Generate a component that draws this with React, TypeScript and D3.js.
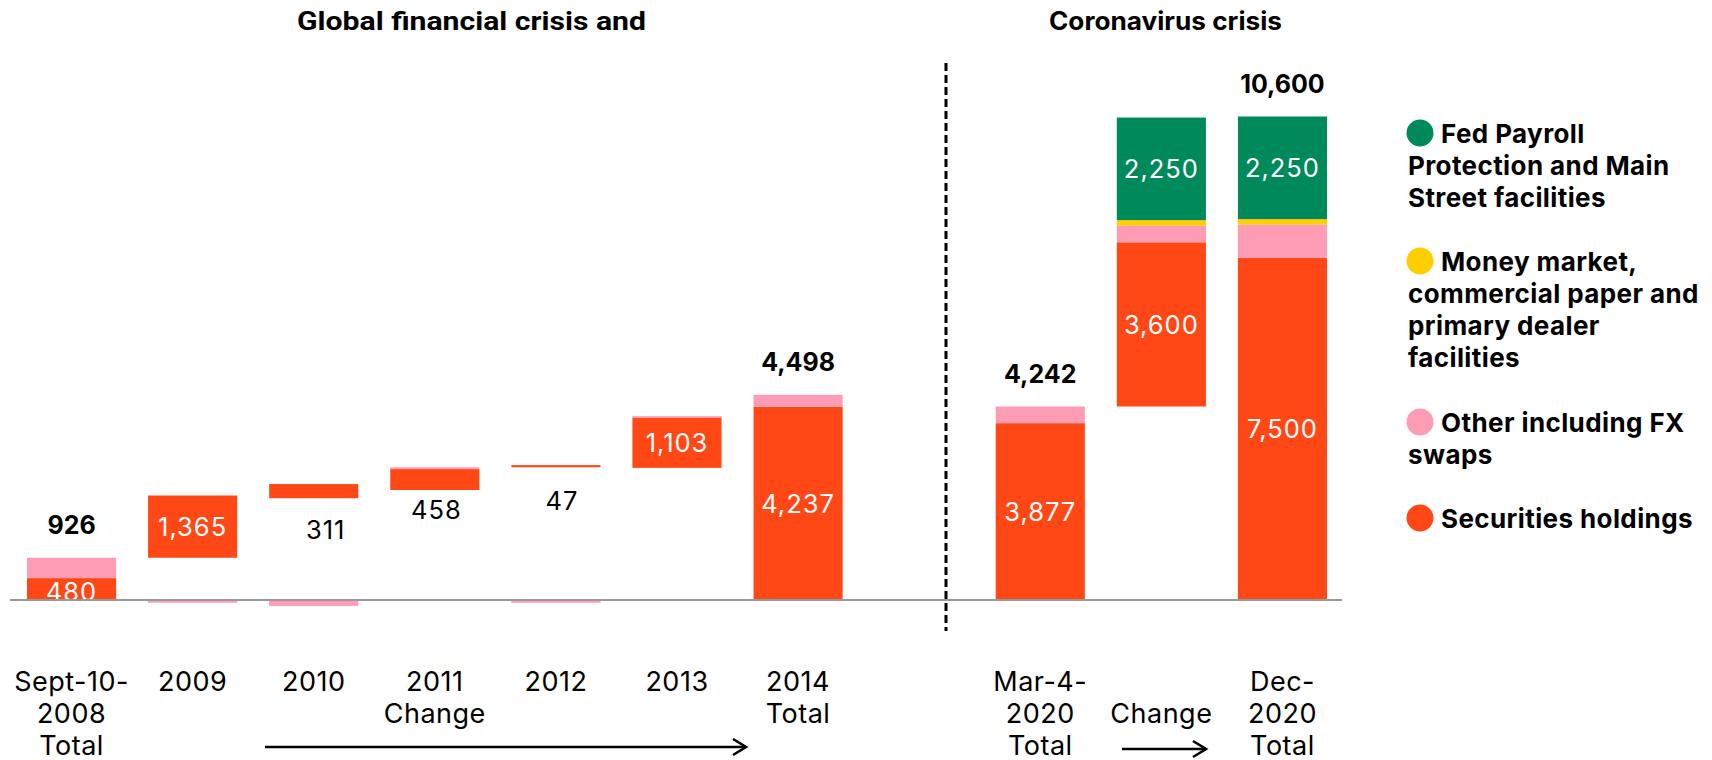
import React from "react";
import * as d3 from "d3";

// ---------- DATA ----------
const categories = ["sep2008", "y2009", "y2010", "y2011", "y2012", "y2013", "y2014", "gap", "mar2020", "chg2020", "dec2020"];
const tickLabels: string[][] = [
  ["Sept-10-", "2008", "Total"],
  ["2009"],
  ["2010"],
  ["2011", "Change"],
  ["2012"],
  ["2013"],
  ["2014", "Total"],
  [],
  ["Mar-4-", "2020", "Total"],
  ["", "Change"],
  ["Dec-", "2020", "Total"],
];
const barKinds = ["total", "change", "change", "change", "change", "change", "total", "gap", "total", "change", "total"];
const securities = [480, 1365, 311, 458, 47, 1103, 4237, 0, 3877, 3600, 7500];
const otherFx = [446, -60, -130, 40, -60, 30, 261, 0, 365, 365, 730];
const moneyMarket = [0, 0, 0, 0, 0, 0, 0, 0, 0, 120, 120];
const fedPayroll = [0, 0, 0, 0, 0, 0, 0, 0, 0, 2250, 2250];
const sectionTitles = ["Global financial crisis and", "Coronavirus crisis"];
const seriesNames = ["Fed Payroll Protection and Main Street facilities", "Money market, commercial paper and primary dealer facilities", "Other including FX swaps", "Securities holdings"];
const legendLines: string[][] = [
  ["Fed Payroll", "Protection and Main", "Street facilities"],
  ["Money market,", "commercial paper and", "primary dealer", "facilities"],
  ["Other including FX", "swaps"],
  ["Securities holdings"],
];

// ---------- STYLE / LAYOUT ----------
const COLORS = { fed: "#008A5C", mm: "#FFCE00", other: "#FD9CB4", sec: "#FF4815" };
const legendColors = [COLORS.fed, COLORS.mm, COLORS.other, COLORS.sec];
const W = 1712;
const H = 760;
const BASE_Y = 600;
const TOP_Y = 116.5;
const YMAX = 10600;
const REG = "Inter, 'Noto Sans', sans-serif";
// Labels drawn below small change bars (offsets from bar bottom)
const outsideLabel: Record<number, { dx: number; dy: number }> = {
  2: { dx: 12, dy: 31 },
  3: { dx: 1.5, dy: 20 },
  4: { dx: 6, dy: 33 },
};
const insideLabelDy: Record<number, number> = { 0: 2 };
const legendLayout = { cx: 1420, r: 13.5, textX: 1441, wrapX: 1408, lineH: 32.3, itemY: [133, 261, 422, 518] };

export default function App() {
  const x = d3.scaleBand<string>().domain(categories).range([11, 1343]).paddingInner(0.264).paddingOuter(0.132);
  const y = d3.scaleLinear().domain([0, YMAX]).range([BASE_Y, TOP_Y]);
  const fmt = d3.format(",");
  const bw = x.bandwidth();

  type Seg = { key: string; x: number; a: number; b: number; color: string };
  const segs: Seg[] = [];
  const labels: JSX.Element[] = [];
  let level = 0;

  categories.forEach((c, i) => {
    const kind = barKinds[i];
    if (kind === "gap") return;
    const x0 = x(c)!;
    const cx = x0 + bw / 2;
    const base = kind === "total" ? 0 : level;
    let pos = base;
    segs.push({ key: c + "sec", x: x0, a: pos, b: pos + securities[i], color: COLORS.sec });
    const secLo = pos;
    const secHi = pos + securities[i];
    pos += securities[i];
    if (otherFx[i] >= 0) {
      segs.push({ key: c + "oth", x: x0, a: pos, b: pos + otherFx[i], color: COLORS.other });
      pos += otherFx[i];
    } else {
      segs.push({ key: c + "oth", x: x0, a: 0, b: otherFx[i], color: COLORS.other });
    }
    let fedLo = 0;
    if (moneyMarket[i] > 0) {
      segs.push({ key: c + "mm", x: x0, a: pos, b: pos + moneyMarket[i], color: COLORS.mm });
      pos += moneyMarket[i];
    }
    if (fedPayroll[i] > 0) {
      fedLo = pos;
      segs.push({ key: c + "fed", x: x0, a: pos, b: pos + fedPayroll[i], color: COLORS.fed });
      pos += fedPayroll[i];
      labels.push(
        <text key={c + "fedl"} x={cx} y={y((fedLo + pos) / 2)} textAnchor="middle" dominantBaseline="central"
          fill="#fff" fontFamily={REG} fontSize={25.5} letterSpacing={1}>{fmt(fedPayroll[i])}</text>
      );
    }
    const total = securities[i] + otherFx[i] + moneyMarket[i] + fedPayroll[i];
    if (kind === "total") {
      level = total;
      labels.push(
        <text key={c + "tot"} x={cx} y={y(pos) - 33} textAnchor="middle" dominantBaseline="central"
          fill="#000" fontFamily={REG} fontWeight={700} fontSize={25}>{fmt(total)}</text>
      );
    } else {
      level = base + total;
    }
    const off = outsideLabel[i];
    if (off) {
      labels.push(
        <text key={c + "secl"} x={cx + off.dx} y={y(secLo) + off.dy} textAnchor="middle" dominantBaseline="central"
          fill="#000" fontFamily={REG} fontSize={25.5} letterSpacing={1}>{fmt(securities[i])}</text>
      );
    } else {
      labels.push(
        <text key={c + "secl"} x={cx} y={y((secLo + secHi) / 2) + (insideLabelDy[i] || 0)} textAnchor="middle" dominantBaseline="central"
          fill="#fff" fontFamily={REG} fontSize={25.5} letterSpacing={1}>{fmt(securities[i])}</text>
      );
    }
  });

  const dividerX = 946;

  const arrow = (x1: number, x2: number, yy: number, k: string) => (
    <g key={k} stroke="#000" strokeWidth={2.6} fill="none">
      <line x1={x1} y1={yy} x2={x2} y2={yy} />
      <polyline points={`${x2 - 13},${yy - 8} ${x2},${yy} ${x2 - 13},${yy + 8}`} />
    </g>
  );

  return (
    <svg width={W} height={H} style={{ position: "absolute", left: 0, top: 0, display: "block", background: "#fff" }}
      xmlns="http://www.w3.org/2000/svg">
      <rect x={0} y={0} width={W} height={H} fill="#fff" />
      <text x={471.5} y={21} textAnchor="middle" dominantBaseline="central" fontFamily="Roboto, sans-serif"
        fontWeight={700} fontSize={25} textLength={349} lengthAdjust="spacingAndGlyphs">{sectionTitles[0]}</text>
      <text x={1165.5} y={21} textAnchor="middle" dominantBaseline="central" fontFamily={REG}
        fontWeight={700} fontSize={25} textLength={233} lengthAdjust="spacingAndGlyphs">{sectionTitles[1]}</text>

      {segs.map((s) => (
        <rect key={s.key} x={s.x} width={bw} y={y(Math.max(s.a, s.b))} height={Math.abs(y(s.a) - y(s.b))} fill={s.color} />
      ))}
      {labels}

      <line x1={10} x2={1342} y1={y(0)} y2={y(0)} stroke="#999" strokeWidth={2} />
      <line x1={dividerX} x2={dividerX} y1={63} y2={631} stroke="#000" strokeWidth={3} strokeDasharray="8,4" />

      {categories.map((c, i) =>
        tickLabels[i].map((t, j) => (
          <text key={c + "t" + j} x={x(c)! + bw / 2} y={681 + j * 32} textAnchor="middle" dominantBaseline="central"
            fill="#000" fontFamily={REG} fontSize={27} letterSpacing={0.5}>{t}</text>
        ))
      )}
      {arrow(265, 746, 747, "a1")}
      {arrow(1122, 1206, 749, "a2")}

      {legendLines.map((lines, i) => (
        <g key={"lg" + i}>
          <title>{seriesNames[i]}</title>
          <circle cx={legendLayout.cx} cy={legendLayout.itemY[i]} r={legendLayout.r} fill={legendColors[i]} />
          {lines.map((t, j) => (
            <text key={j} x={j === 0 ? legendLayout.textX : legendLayout.wrapX} y={legendLayout.itemY[i] + j * legendLayout.lineH}
              dominantBaseline="central" fill="#000" fontFamily={REG} fontWeight={700} fontSize={26} letterSpacing={0.4}>{t}</text>
          ))}
        </g>
      ))}
    </svg>
  );
}
